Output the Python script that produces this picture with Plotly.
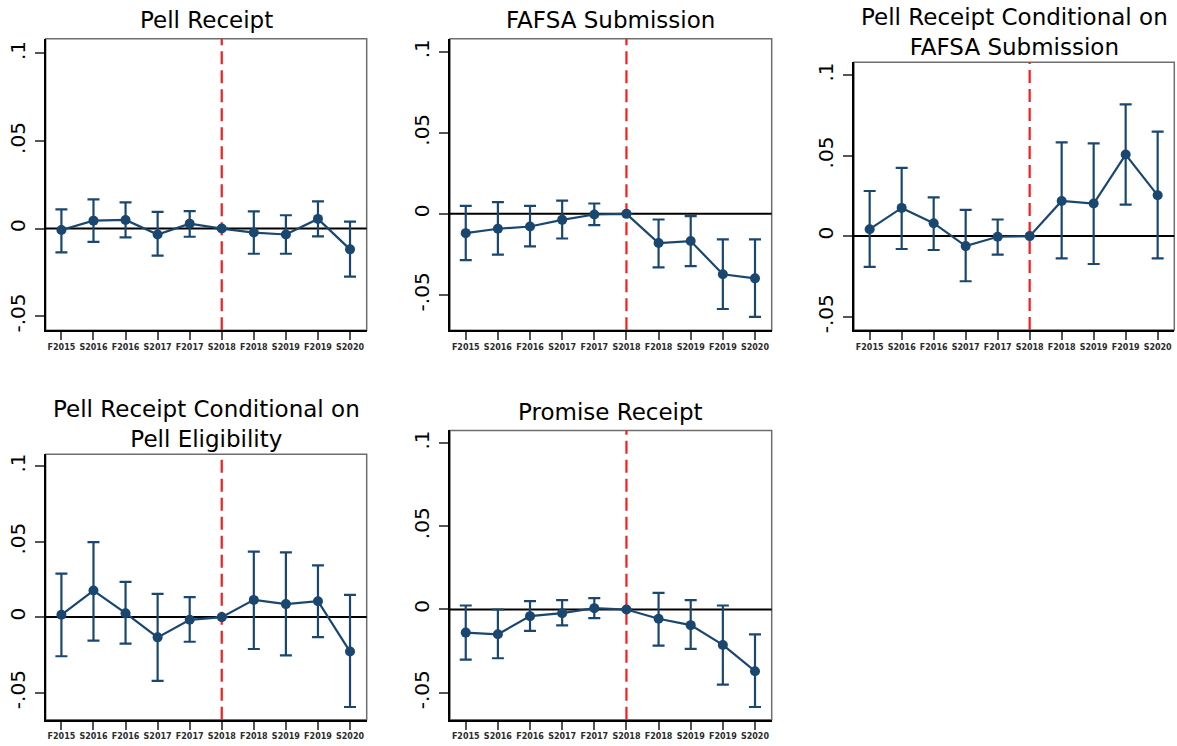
import plotly.graph_objects as go

# Event-study estimates by semester, with 95% confidence bounds.
# S2018 is the omitted reference term (fixed at zero, no interval).
terms = ["F2015", "S2016", "F2016", "S2017", "F2017",
         "S2018", "F2018", "S2019", "F2019", "S2020"]

pell_est = [-0.0008, 0.0045, 0.0049, -0.0034, 0.0028, 0.0, -0.0023, -0.0034, 0.0055, -0.0119]
pell_lo = [-0.0136, -0.0076, -0.0051, -0.0155, -0.0047, None, -0.0144, -0.0144, -0.0045, -0.0275]
pell_hi = [0.0110, 0.0167, 0.0150, 0.0095, 0.0100, None, 0.0098, 0.0076, 0.0155, 0.0040]

fafsa_est = [-0.0119, -0.0092, -0.0078, -0.0037, -0.0004, 0.0, -0.0180, -0.0168, -0.0373, -0.0398]
fafsa_lo = [-0.0285, -0.0252, -0.0201, -0.0152, -0.0070, None, -0.0330, -0.0322, -0.0587, -0.0636]
fafsa_hi = [0.0049, 0.0072, 0.0049, 0.0082, 0.0064, None, -0.0035, -0.0014, -0.0158, -0.0158]

pell_fafsa_est = [0.0043, 0.0175, 0.0080, -0.0062, -0.0004, 0.0, 0.0218, 0.0202, 0.0506, 0.0253]
pell_fafsa_lo = [-0.0191, -0.0080, -0.0086, -0.0280, -0.0115, None, -0.0138, -0.0173, 0.0195, -0.0138]
pell_fafsa_hi = [0.0280, 0.0424, 0.0241, 0.0163, 0.0103, None, 0.0582, 0.0576, 0.0817, 0.0648]

pell_elig_est = [0.0015, 0.0176, 0.0026, -0.0134, -0.0018, 0.0, 0.0114, 0.0086, 0.0105, -0.0228]
pell_elig_lo = [-0.0259, -0.0156, -0.0176, -0.0422, -0.0163, None, -0.0211, -0.0253, -0.0132, -0.0595]
pell_elig_hi = [0.0288, 0.0496, 0.0233, 0.0154, 0.0132, None, 0.0433, 0.0428, 0.0343, 0.0147]

promise_est = [-0.0139, -0.0149, -0.0040, -0.0022, 0.0008, 0.0, -0.0056, -0.0094, -0.0213, -0.0371]
promise_lo = [-0.0301, -0.0293, -0.0129, -0.0096, -0.0052, None, -0.0217, -0.0237, -0.0452, -0.0586]
promise_hi = [0.0024, 0.0000, 0.0050, 0.0056, 0.0068, None, 0.0100, 0.0056, 0.0024, -0.0149]

ytick_vals = [0.1, 0.05, 0.0, -0.05]
ytick_text = [".1", ".05", "0", "-.05"]

W, H = 1177, 746
NAVY = "#1a476f"

# panel: (title, est, lo, hi, frame px [left, right, top, bottom], y range, title centre px)
panels = [
    ("Pell Receipt", pell_est, pell_lo, pell_hi,
     (45.7, 366.7, 38, 331), (-0.0581, 0.1084), 19),
    ("FAFSA Submission", fafsa_est, fafsa_lo, fafsa_hi,
     (450, 771.7, 38, 331), (-0.0718, 0.108), 19),
    ("Pell Receipt Conditional on<br>FAFSA Submission", pell_fafsa_est, pell_fafsa_lo, pell_fafsa_hi,
     (854, 1174.3, 61.7, 330.7), (-0.0582, 0.1078), 31),
    ("Pell Receipt Conditional on<br>Pell Eligibility", pell_elig_est, pell_elig_lo, pell_elig_hi,
     (45.7, 366.7, 455.7, 722.7), (-0.068, 0.1078), 425),
    ("Promise Receipt", promise_est, promise_lo, promise_hi,
     (450, 771.7, 431.7, 722.7), (-0.0663, 0.1076), 413),
]

fig = go.Figure()
layout = dict(
    width=W, height=H,
    margin=dict(l=0, r=0, t=0, b=0),
    paper_bgcolor="white", plot_bgcolor="white",
    showlegend=False,
    font=dict(family="DejaVu Sans", color="black"),
)
shapes = []
annotations = []

for i, (title, est, lo, hi, frame, yr, ty) in enumerate(panels, start=1):
    xa = "x" if i == 1 else f"x{i}"
    ya = "y" if i == 1 else f"y{i}"
    left, right, top, bottom = frame

    up = [None if h is None else h - e for e, h in zip(est, hi)]
    down = [None if l is None else e - l for e, l in zip(est, lo)]

    fig.add_trace(go.Scatter(
        x=list(range(len(terms))), y=est, xaxis=xa, yaxis=ya,
        mode="lines+markers",
        line=dict(color=NAVY, width=2.2),
        marker=dict(color=NAVY, size=10),
        error_y=dict(type="data", array=up, arrayminus=down, symmetric=False,
                     color=NAVY, thickness=2.2, width=6),
    ))

    layout["xaxis" if i == 1 else f"xaxis{i}"] = dict(
        domain=[left / W, right / W], anchor=ya,
        range=[-0.49, 9.52],
        tickvals=list(range(len(terms))), ticktext=terms,
        tickfont=dict(size=8, color="#2b2b2b", weight="bold"),
        ticks="outside", ticklen=8, tickwidth=1.5, tickcolor="#555555",
        showline=True, linecolor="black", linewidth=2, mirror=False,
        showgrid=False, zeroline=False, fixedrange=True,
    )
    layout["yaxis" if i == 1 else f"yaxis{i}"] = dict(
        domain=[1 - bottom / H, 1 - top / H], anchor=xa,
        range=list(yr),
        tickvals=ytick_vals, ticktext=ytick_text, tickangle=-90,
        tickfont=dict(size=20, color="black"),
        ticks="outside", ticklen=9, tickwidth=1.5, tickcolor="#555555",
        ticklabelstandoff=2,
        showline=True, linecolor="black", linewidth=2, mirror=False,
        showgrid=False, zeroline=False, fixedrange=True,
    )

    # light frame on top/right; black axis lines overlay left/bottom
    shapes.append(dict(type="rect", xref=f"{xa} domain", yref=f"{ya} domain",
                       x0=0, x1=1, y0=0, y1=1, layer="below",
                       line=dict(color="#6e6e6e", width=1.5)))
    # zero reference line
    shapes.append(dict(type="line", xref=f"{xa} domain", yref=ya,
                       x0=0, x1=1, y0=0, y1=0, layer="below",
                       line=dict(color="black", width=2)))
    # policy timing marker at S2018
    shapes.append(dict(type="line", xref=xa, yref=f"{ya} domain",
                       x0=5, x1=5, y0=0, y1=1, layer="below",
                       line=dict(color="#ff1a1a", width=2.2, dash="13px,6px")))

    annotations.append(dict(text=title, xref="paper", yref="paper",
                            x=(left + right) / 2 / W, y=1 - ty / H,
                            xanchor="center", yanchor="middle", align="center",
                            showarrow=False,
                            font=dict(size=23, color="black", family="DejaVu Sans")))

layout["shapes"] = shapes
layout["annotations"] = annotations
fig.update_layout(**layout)

fig.write_html("out.html")
